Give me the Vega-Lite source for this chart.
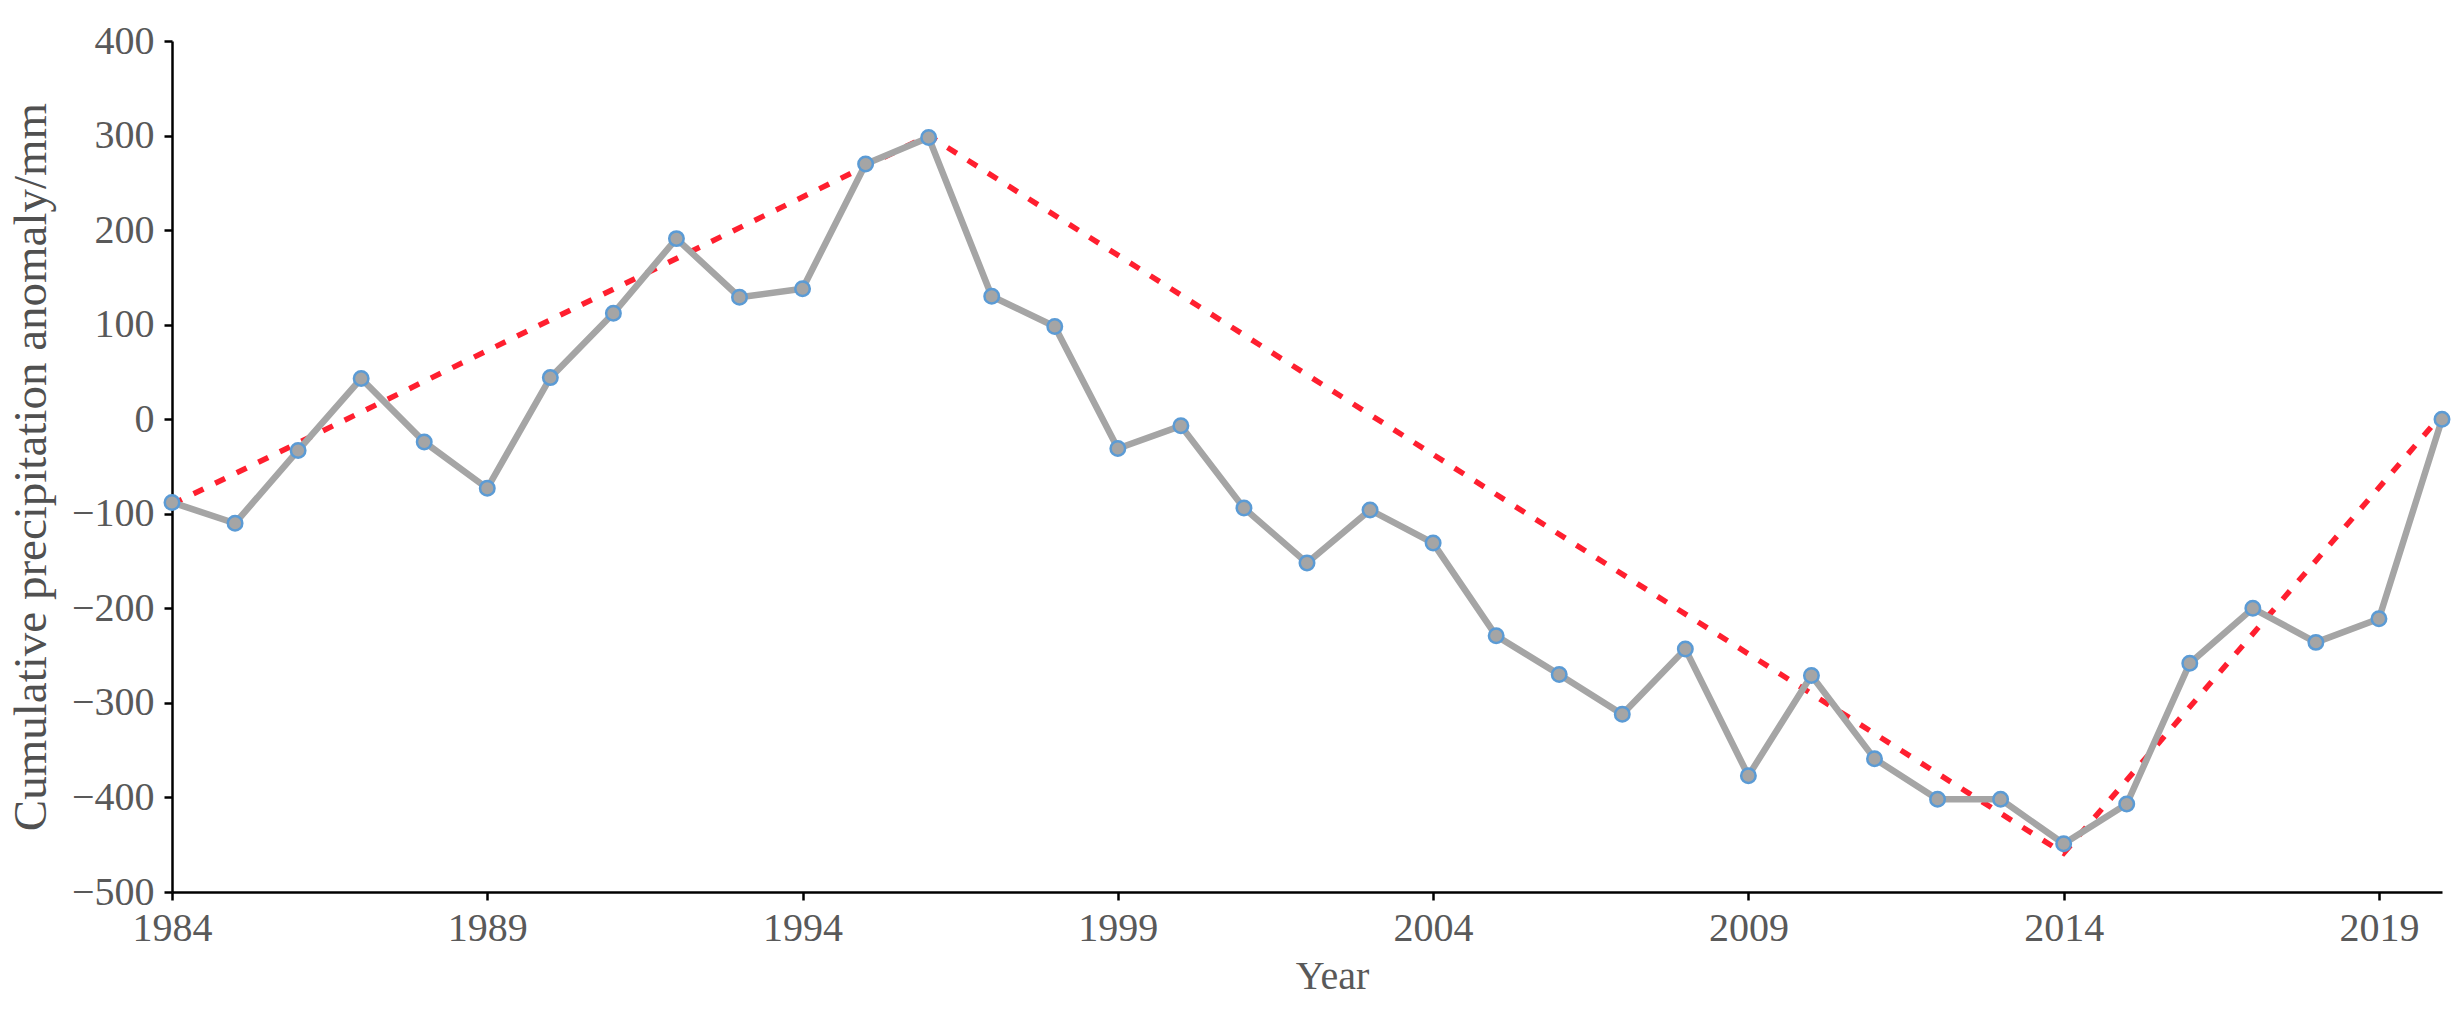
{
  "$schema": "https://vega.github.io/schema/vega-lite/v6.json",
  "autosize": "none",
  "width": 2270,
  "height": 851,
  "padding": {"left": 172, "top": 41, "right": 15, "bottom": 128},
  "background": "white",
  "config": {
    "view": {"stroke": null},
    "font": "Liberation Serif",
    "axis": {
      "grid": false,
      "domainColor": "#000000",
      "domainWidth": 2.5,
      "tickColor": "#000000",
      "tickWidth": 2.5,
      "tickSize": 8,
      "labelFont": "Liberation Serif",
      "labelFontSize": 40,
      "labelColor": "#595959",
      "titleFont": "Liberation Serif",
      "titleFontWeight": "normal",
      "titleColor": "#595959"
    }
  },
  "datasets": {
    "series": [
      {"year": 1984, "value": -88},
      {"year": 1985, "value": -110},
      {"year": 1986, "value": -33},
      {"year": 1987, "value": 43},
      {"year": 1988, "value": -24},
      {"year": 1989, "value": -73},
      {"year": 1990, "value": 44},
      {"year": 1991, "value": 112},
      {"year": 1992, "value": 191},
      {"year": 1993, "value": 129},
      {"year": 1994, "value": 138},
      {"year": 1995, "value": 270},
      {"year": 1996, "value": 298},
      {"year": 1997, "value": 130},
      {"year": 1998, "value": 98},
      {"year": 1999, "value": -31},
      {"year": 2000, "value": -7},
      {"year": 2001, "value": -94},
      {"year": 2002, "value": -152},
      {"year": 2003, "value": -96},
      {"year": 2004, "value": -131},
      {"year": 2005, "value": -229},
      {"year": 2006, "value": -270},
      {"year": 2007, "value": -312},
      {"year": 2008, "value": -243},
      {"year": 2009, "value": -377},
      {"year": 2010, "value": -271},
      {"year": 2011, "value": -359},
      {"year": 2012, "value": -402},
      {"year": 2013, "value": -402},
      {"year": 2014, "value": -449},
      {"year": 2015, "value": -407},
      {"year": 2016, "value": -258},
      {"year": 2017, "value": -200},
      {"year": 2018, "value": -236},
      {"year": 2019, "value": -211},
      {"year": 2020, "value": 0}
    ],
    "trend": [
      {"year": 1984, "value": -90},
      {"year": 1996, "value": 300},
      {"year": 2014, "value": -459},
      {"year": 2020, "value": 5}
    ]
  },
  "layer": [
    {
      "data": {"name": "trend"},
      "mark": {"type": "line", "color": "#FF1F2F", "strokeWidth": 5.5, "strokeDash": [11, 13], "clip": false},
      "encoding": {
        "x": {
          "field": "year",
          "type": "quantitative",
          "scale": {"domain": [1984, 2020], "nice": false, "zero": false},
          "axis": {
            "values": [1984, 1989, 1994, 1999, 2004, 2009, 2014, 2019],
            "format": "d",
            "title": "Year",
            "titleFontSize": 40,
            "titlePadding": 8,
            "titleX": 1160,
            "labelPadding": 8,
            "labelFlush": false
          }
        },
        "y": {
          "field": "value",
          "type": "quantitative",
          "scale": {"domain": [-500, 400], "nice": false, "zero": false},
          "axis": {
            "values": [-500, -400, -300, -200, -100, 0, 100, 200, 300, 400],
            "title": "Cumulative precipitation anomaly/mm",
            "titleFontSize": 47,
            "titleColor": "#505050",
            "titlePadding": 16,
            "labelPadding": 10
          }
        }
      }
    },
    {
      "data": {"name": "series"},
      "mark": {"type": "line", "color": "#A5A5A5", "strokeWidth": 6.5, "clip": false},
      "encoding": {
        "x": {"field": "year", "type": "quantitative"},
        "y": {"field": "value", "type": "quantitative"}
      }
    },
    {
      "data": {"name": "series"},
      "mark": {"type": "point", "shape": "circle", "filled": true, "fill": "#A5A5A5", "stroke": "#5B9BD5", "strokeWidth": 2.5, "size": 210, "opacity": 1, "clip": false},
      "encoding": {
        "x": {"field": "year", "type": "quantitative"},
        "y": {"field": "value", "type": "quantitative"}
      }
    }
  ]
}
